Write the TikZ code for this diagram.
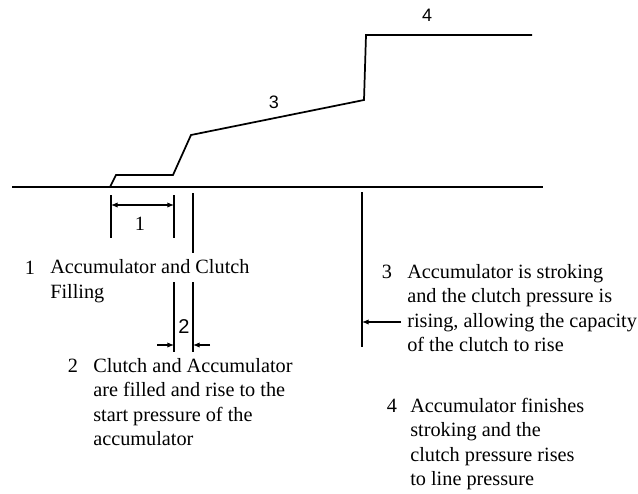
\documentclass[tikz,border=0pt]{standalone}
\usepackage{fontspec}
\setmainfont{Liberation Serif}
\newfontfamily\lblsans{Liberation Sans}
\usetikzlibrary{arrows.meta}
\begin{document}
\begin{tikzpicture}[x=0.75pt,y=-0.75pt,
  curveline/.style={line width=1.3pt,line join=miter},
  dimline/.style={line width=0.9pt},
  dimarrow/.style={line width=0.8pt,-{Latex[length=5pt,width=4pt]}},
  bothdim/.style={line width=0.8pt,{Latex[length=5pt,width=4pt]}-{Latex[length=5pt,width=4pt]}},
  desc/.style={anchor=base west,inner sep=0pt,align=left,font=\fontsize{15.2}{18.4}\selectfont},
  num/.style={anchor=base,inner sep=0pt,font=\fontsize{15.2}{18.4}\selectfont},
  glabel/.style={inner sep=0pt,font=\lblsans\fontsize{13.5}{14}\selectfont}]
\useasboundingbox (0,0) rectangle (638,493);
% axis
\coordinate (ax0) at (12,187);
\coordinate (ax1) at (543,187);
\draw[curveline] (ax0) -- (ax1);
% pressure curve
\coordinate (c0) at (110,187);
\coordinate (c1) at (116,175);
\coordinate (c2) at (173,175);
\coordinate (c3) at (191,135);
\coordinate (c4) at (364,100);
\coordinate (c5) at (366,35);
\coordinate (c6) at (532,35);
\draw[curveline] (c0) -- (c1) -- (c2) -- (c3) -- (c4) -- (c5) -- (c6);
\node[glabel] (l4) at (427,15) {4};
\node[glabel] (l3) at (274,102) {3};
% dimension 1
\coordinate (t1a) at (111,195); \coordinate (t1b) at (111,238);
\coordinate (t2a) at (174,195); \coordinate (t2b) at (174,238);
\draw[dimline] (t1a) -- (t1b);
\draw[dimline] (t2a) -- (t2b);
\coordinate (d1a) at (111,205); \coordinate (d1b) at (174,205);
\draw[bothdim] (d1a) -- (d1b);
\node[num] (n1) at (140,230) {1};
% long marker line
\coordinate (m1a) at (193,193); \coordinate (m1b) at (193,253);
\draw[dimline] (m1a) -- (m1b);
% dimension 2
\coordinate (u1a) at (174,282); \coordinate (u1b) at (174,352);
\coordinate (u2a) at (193,282); \coordinate (u2b) at (193,352);
\draw[dimline] (u1a) -- (u1b);
\draw[dimline] (u2a) -- (u2b);
\coordinate (a2l) at (157,345); \coordinate (a2lt) at (174,345);
\coordinate (a2r) at (210,345); \coordinate (a2rt) at (193,345);
\draw[dimarrow] (a2l) -- (a2lt);
\draw[dimarrow] (a2r) -- (a2rt);
\node[glabel,font=\lblsans\fontsize{15}{16}\selectfont] (n2) at (184,327) {2};
% marker for stage 3
\coordinate (m3a) at (362,192); \coordinate (m3b) at (362,347);
\draw[dimline] (m3a) -- (m3b);
\coordinate (a3s) at (401,322); \coordinate (a3t) at (362,322);
\draw[dimarrow] (a3s) -- (a3t);
% descriptions (base anchor = baseline of last line)
\node[num] (k1) at (30,274) {1};
\node[desc] (txt1) at (50,298.5) {Accumulator and Clutch\\Filling};
\node[num] (k2) at (73,372) {2};
\node[desc] (txt2) at (93,445.6) {Clutch and Accumulator\\are filled and rise to the\\start pressure of the\\accumulator};
\node[num] (k3) at (387,278) {3};
\node[desc] (txt3) at (407,351.6) {Accumulator is stroking\\and the clutch pressure is\\rising, allowing the capacity\\of the clutch to rise};
\node[num] (k4) at (392,412) {4};
\node[desc] (txt4) at (410,485.6) {Accumulator finishes\\stroking and the\\clutch pressure rises\\to line pressure};
\end{tikzpicture}
\end{document}
